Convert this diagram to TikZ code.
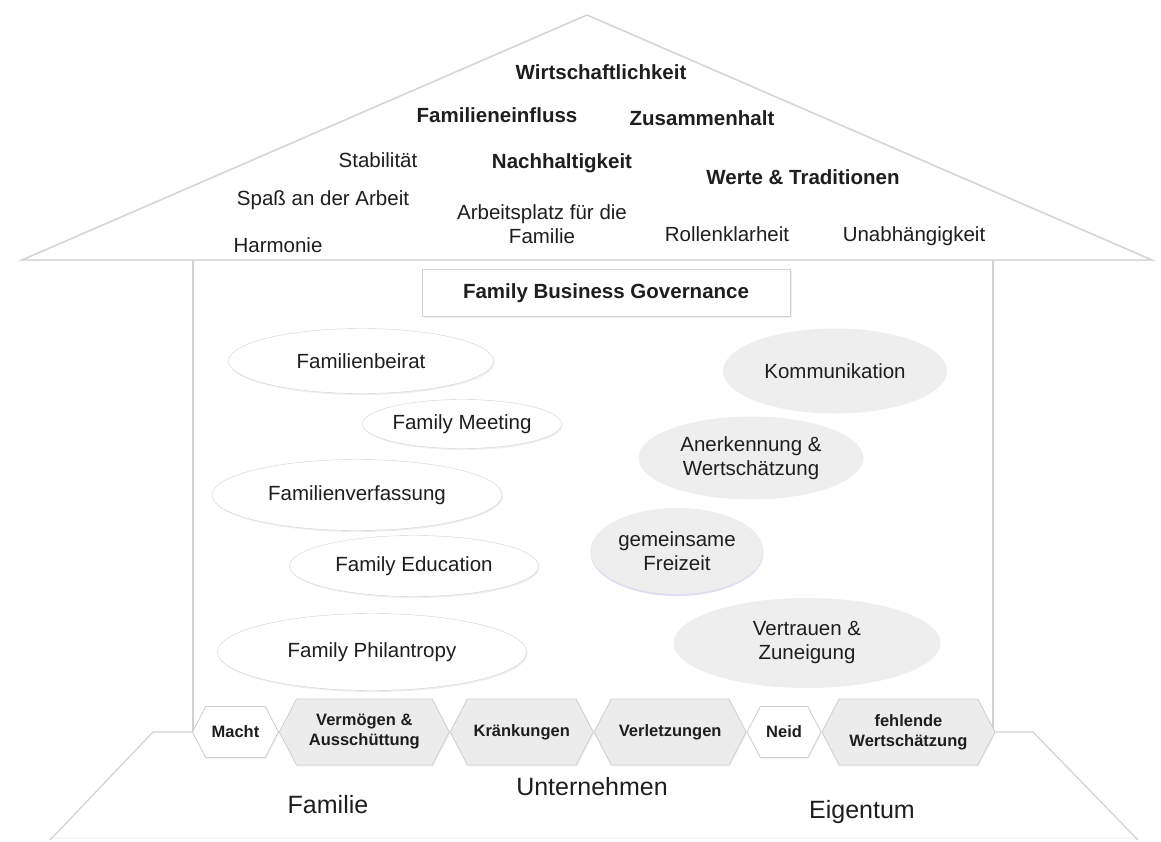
\documentclass[tikz,border=0pt]{standalone}
\usepackage{fontspec}
\setmainfont{Liberation Sans}
\usepackage{tikz}
\usetikzlibrary{positioning,shapes.geometric,shapes.symbols,shadows}

\definecolor{linegray}{HTML}{D2D2D2}
\definecolor{hexline}{HTML}{C8CED6}
\definecolor{hexfill}{HTML}{ECECEC}
\definecolor{ovalfill}{HTML}{EEEEEE}
\definecolor{txt}{HTML}{1E1E1E}

\begin{document}
\begin{tikzpicture}[x=1pt,y=-1pt,
  wall/.style={draw=linegray,line width=1.2pt},
  word/.style={font=\fontsize{20.5}{24}\selectfont,text=txt,align=center,inner sep=0pt},
  bword/.style={word,font=\fontsize{20.5}{24}\selectfont\bfseries},
  oval/.style={ellipse,draw=linegray,fill=white,word,inner sep=0pt,
    drop shadow={opacity=0.12,shadow xshift=1pt,shadow yshift=-1.5pt}},
  grayoval/.style={ellipse,fill=ovalfill,word,inner sep=0pt},
  hexa/.style={signal,signal to=west and east,signal pointer angle=125,
    draw=hexline,fill=hexfill,line width=0.8pt,inner sep=0pt,minimum height=66,
    font=\fontsize{16.5}{20}\selectfont\bfseries,text=txt,align=center,
    drop shadow={opacity=0.08,shadow xshift=1pt,shadow yshift=-1.5pt}},
  smallhexa/.style={hexa,fill=white,minimum height=51}]

\useasboundingbox (0,0) rectangle (1161,841);
\fill[white] (0,0) rectangle (1161,841);

% roof
\coordinate (roofL) at (22,260);
\coordinate (apex) at (587,15);
\coordinate (roofR) at (1152,260);
\draw[gray!10,line width=2pt,shift={(1,2)}] (roofL) -- (apex) -- (roofR) -- cycle;
\draw[wall] (roofL) -- (apex) -- (roofR) -- cycle;

\node[bword] (wirt) at (601,72) {Wirtschaftlichkeit};
\node[bword] (einfl) at (497,115) {Familieneinfluss};
\node[bword] (zus) at (702,118) {Zusammenhalt};
\node[word] (stab) at (378,160) {Stabilität};
\node[bword] (nach) at (562,163) {Nachhaltigkeit};
\node[bword] (werte) at (803,177) {Werte \& Traditionen};
\node[word] (spass) at (323,200) {Spaß an der Arbeit};
\node[word] (platz) at (542,224) {Arbeitsplatz für die\\Familie};
\node[word] (harm) at (278,245) {Harmonie};
\node[word] (rollen) at (727,234) {Rollenklarheit};
\node[word] (unab) at (914,236) {Unabhängigkeit};

% walls and base
\coordinate (wallL) at (193,260);
\coordinate (wallR) at (993,260);
\coordinate (baseL) at (153,732);
\coordinate (baseR) at (1033,732);
\coordinate (footL) at (50,840);
\coordinate (footR) at (1138,840);
\draw[wall] (wallL) -- (wallL |- baseL);
\draw[wall] (wallR) -- (wallR |- baseR);
\draw[gray!7,line width=2.5pt] (footL |- 0,838) -- (footR |- 0,838);

\node[bword,draw=linegray,fill=white,minimum width=368,minimum height=47,
  drop shadow={opacity=0.15,shadow xshift=1.5pt,shadow yshift=-1.5pt}] (fbg) at (606,293) {Family Business Governance};

% governance instruments
\node[oval,minimum width=265,minimum height=65] (beirat) at (361,361) {Familienbeirat};
\node[oval,minimum width=199,minimum height=49] (meeting) at (462,424) {Family Meeting};
\node[oval,minimum width=290,minimum height=71] (verfass) at (357,495) {Familienverfassung};
\node[oval,minimum width=249,minimum height=61] (educ) at (414,566) {Family Education};
\node[oval,minimum width=309,minimum height=77] (phil) at (372,652) {Family Philantropy};

\node[grayoval,minimum width=224,minimum height=85] (komm) at (835,371) {Kommunikation};
\node[grayoval,minimum width=225,minimum height=83] (anerk) at (751,458) {Anerkennung \&\\Wertschätzung};
\node[grayoval,minimum width=173,minimum height=86,
  drop shadow={fill=blue!40!gray,opacity=0.18,shadow xshift=0pt,shadow yshift=-2pt}] (frei) at (677,551) {gemeinsame\\Freizeit};
\node[grayoval,minimum width=267,minimum height=90] (vertr) at (807,643) {Vertrauen \&\\Zuneigung};

% conflict fields
\node[smallhexa,minimum width=86,anchor=west] (macht) at (192,732) {Macht};
\node[hexa,minimum width=170,right=0pt of macht] (verm) {Vermögen \&\\Ausschüttung};
\node[hexa,minimum width=143,right=0pt of verm] (kraenk) {Kränkungen};
\node[hexa,minimum width=152,right=0pt of kraenk] (verl) {Verletzungen};
\node[smallhexa,minimum width=74,right=0pt of verl] (neid) {Neid};
\node[hexa,minimum width=173,right=0pt of neid] (fehl) {fehlende\\Wertschätzung};

\draw[wall] (macht.west) -- (baseL) -- (footL);
\draw[wall] (fehl.east) -- (baseR) -- (footR);

\node[word,font=\fontsize{25}{28}\selectfont] (familie) at (328,805) {Familie};
\node[word,font=\fontsize{25}{28}\selectfont] (untern) at (592,787) {Unternehmen};
\node[word,font=\fontsize{25}{28}\selectfont] (eigen) at (862,812) {Eigentum};

\end{tikzpicture}
\end{document}
